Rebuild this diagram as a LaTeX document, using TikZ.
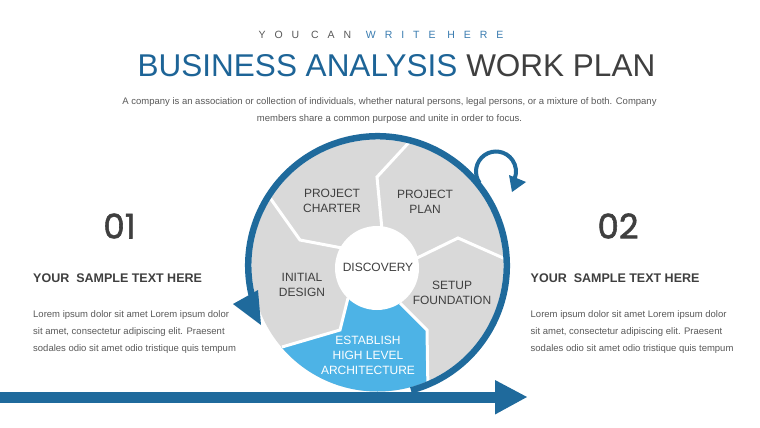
\documentclass[tikz,border=0pt]{standalone}
\usepackage{fontspec}
\setmainfont{Liberation Sans}
\newfontfamily\numfont[FakeBold=1.6]{Poppins}
\definecolor{ringblue}{HTML}{1F6A9C}
\definecolor{titleblue}{HTML}{1D6497}
\definecolor{subblue}{HTML}{3A7CB0}
\definecolor{discgrey}{HTML}{D9D9D9}
\definecolor{segblue}{HTML}{4DB3E6}
\definecolor{darktext}{HTML}{3F3F3F}
\definecolor{bodytext}{HTML}{595959}
\tikzset{
  sep/.style={draw=white,line width=3pt,line join=miter},
  ringline/.style={draw=ringblue,line width=6.5pt},
  looparc/.style={draw=ringblue,line width=4pt},
  seglabel/.style={font=\fontsize{12}{15}\selectfont,text=darktext,align=center,inner sep=0pt},
  lorem/.style={font=\fontsize{9.5}{17}\selectfont,text=bodytext,anchor=base west,inner sep=0pt},
  head/.style={font=\bfseries\fontsize{12.5}{14}\selectfont,text=darktext,anchor=base west,inner sep=0pt},
  desc/.style={font=\fontsize{9.5}{11}\selectfont,text=bodytext,anchor=base,inner sep=0pt},
  bignum/.style={font=\numfont\fontsize{34}{34}\selectfont,text=darktext,inner sep=0pt}
}
\begin{document}
\begin{tikzpicture}[x=1pt,y=1pt]
\useasboundingbox (0,0) rectangle (760,-428);
\fill[white] (0,0) rectangle (760,-428);
\coordinate (C) at (377.5,-265.5);
\coordinate (W) at (377,-268);
\coordinate (L) at (496,-171.5);

% grey disc
\fill[discgrey] (C) circle (126);
% light blue segment
\begin{scope}
\clip (C) circle (126);
\fill[segblue] (348,-298) -- (340,-330) -- (282,-347) -- (230,-362) -- (230,-440)
  -- (430,-440) -- (429,-420) -- (428,-383) -- (427,-330) -- (400,-303) -- cycle;
\end{scope}
% separators
\draw[sep] (383,-240) -- (377,-177) -- (413,-138);
\draw[sep] (417,-258) -- (458,-238) -- (510,-261);
\draw[sep] (400,-303) -- (427,-330) -- (428,-392);
\draw[sep] (348,-298) -- (340,-330) -- (282,-347);
\draw[sep] (342,-248) -- (300,-240) -- (268,-195);
% inner white circle
\fill[white] (W) circle (42);

% outer ring arrow
\draw[ringline] ([shift={(-75:129.25)}]C) arc[start angle=-75,end angle=193,radius=129.25];
\fill[ringblue] (233,-304) -- (258,-290) -- (261,-325) -- cycle;

% small loop arrow
\draw[looparc] ([shift={(215:20)}]L) arc[start angle=215,end angle=-20,radius=20];
\fill[ringblue] (509,-175) -- (526,-182) -- (512,-192) -- cycle;

% bottom arrow
\fill[ringblue] (0,-391.5) rectangle (497,-402.5);
\fill[ringblue] (495,-380) -- (527,-397) -- (495,-414.5) -- cycle;

% segment labels
\node[seglabel] (charter) at (332,-200.5) {PROJECT\\CHARTER};
\node[seglabel] (plan) at (425,-202) {PROJECT\\PLAN};
\node[seglabel] (disc) at (378,-267) {DISCOVERY};
\node[seglabel] (initial) at (302,-285) {INITIAL\\DESIGN};
\node[seglabel] (setup) at (452,-292.5) {SETUP\\FOUNDATION};
\node[seglabel,text=white] (estab) at (368,-355) {ESTABLISH\\HIGH LEVEL\\ARCHITECTURE};

% header
\node[anchor=base,inner sep=0pt,font=\fontsize{10.5}{12}\selectfont\addfontfeature{LetterSpace=85}] (sub) at (381,-39)
  {\textcolor{bodytext}{YOU CAN}\hspace{3pt} \textcolor{subblue}{WRITE HERE}};
\node[anchor=base,inner sep=0pt,font=\fontsize{31.5}{31.5}\selectfont] (title) at (396.5,-76)
  {\textcolor{titleblue}{BUSINESS ANALYSIS} \textcolor{darktext}{WORK PLAN}};
\node[desc] (d1) at (389.5,-104) {A company is an association or collection of individuals, whether natural persons, legal persons, or a mixture of both. Company};
\node[desc] (d2) at (389.5,-121) {members share a common purpose and unite in order to focus.};

% left column
\node[bignum] (n1) at (119.5,-226) {01};
\node[head] (h1) at (33,-282) {YOUR\ \ SAMPLE TEXT HERE};
\node[lorem] (l1a) at (33,-317) {Lorem ipsum dolor sit amet Lorem ipsum dolor};
\node[lorem] (l1b) at (33,-334) {sit amet, consectetur adipiscing elit. Praesent};
\node[lorem] (l1c) at (33,-351) {sodales odio sit amet odio tristique quis tempum};

% right column
\node[bignum] (n2) at (618,-226) {02};
\node[head] (h2) at (530.5,-282) {YOUR\ \ SAMPLE TEXT HERE};
\node[lorem] (l2a) at (530.5,-317) {Lorem ipsum dolor sit amet Lorem ipsum dolor};
\node[lorem] (l2b) at (530.5,-334) {sit amet, consectetur adipiscing elit. Praesent};
\node[lorem] (l2c) at (530.5,-351) {sodales odio sit amet odio tristique quis tempum};
\end{tikzpicture}
\end{document}
